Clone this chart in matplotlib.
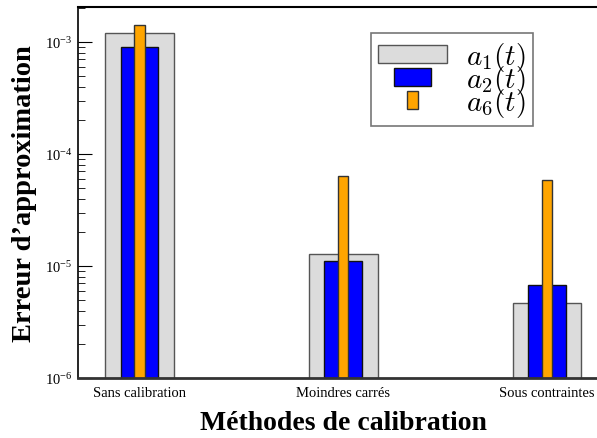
import matplotlib
matplotlib.use("Agg")
import matplotlib.pyplot as plt
from matplotlib.patches import Rectangle
from matplotlib.legend_handler import HandlerPatch
from matplotlib.ticker import FuncFormatter, LogLocator
import numpy as np

plt.rcParams["font.family"] = "Liberation Serif"
plt.rcParams["mathtext.fontset"] = "cm"

methods = ["Sans calibration", "Moindres carrés", "Sous contraintes"]
a1 = [1.21e-3, 1.28e-5, 4.6e-6]
a2 = [9.1e-4, 1.09e-5, 6.6e-6]
a6 = [1.43e-3, 6.3e-5, 5.8e-5]
labels = [r"$a_1(t)$", r"$a_2(t)$", r"$a_6(t)$"]

widths = [0.338, 0.185, 0.05]
colors = ["#dcdcdc", "#0000ff", "#ffa500"]
edges = ["#555555", "#111111", "#333333"]


class ScaledHandler(HandlerPatch):
    # legend patch whose width follows the bar width
    def __init__(self, frac):
        super().__init__()
        self.frac = frac

    def create_artists(self, legend, orig_handle, xdescent, ydescent,
                       width, height, fontsize, trans):
        w = width * self.frac
        p = Rectangle((-xdescent + (width - w) / 2, -ydescent),
                      w, height, facecolor=orig_handle.get_facecolor(),
                      edgecolor=orig_handle.get_edgecolor(),
                      linewidth=orig_handle.get_linewidth(), transform=trans)
        return [p]


fig = plt.figure(figsize=(5.97, 4.39), dpi=100)
ax = fig.add_axes([0.1307, 0.1367, 0.888, 0.845])

x = np.arange(len(methods))
bars = []
for vals, w, c, e, lab in zip([a1, a2, a6], widths, colors, edges, labels):
    b = ax.bar(x, vals, width=w, color=c, edgecolor=e, linewidth=1.0,
               label=lab, bottom=1e-7)
    bars.append(b)

ax.set_yscale("log")
ax.set_ylim(1e-6, 2.05e-3)
ax.set_xlim(-0.302, 2.3)
ax.set_xticks(x)
ax.set_xticklabels(methods, fontsize=10.5)
ax.tick_params(axis="x", length=0, pad=6)
ax.yaxis.set_major_locator(LogLocator(base=10))
ax.yaxis.set_minor_locator(LogLocator(base=10, subs=np.arange(2, 10)))
ax.yaxis.set_major_formatter(FuncFormatter(
    lambda v, p: r"$\mathregular{10^{%d}}$" % round(np.log10(v))))
ax.tick_params(axis="y", which="major", direction="in", length=10,
               labelsize=10.5, pad=4)
ax.tick_params(axis="y", which="minor", direction="in", length=5)

ax.spines["bottom"].set_linewidth(2.0)
ax.spines["bottom"].set_color("#333333")
ax.spines["top"].set_linewidth(1.5)
ax.spines["left"].set_linewidth(1.2)

ax.set_xlabel("Méthodes de calibration", fontsize=20, fontweight="bold",
              labelpad=8)
ax.set_ylabel("Erreur d’approximation", fontsize=20.5, fontweight="bold",
              labelpad=6)

handler_map = {
    bars[0].patches[0]: ScaledHandler(1.0),
    bars[1].patches[0]: ScaledHandler(0.545),
    bars[2].patches[0]: ScaledHandler(0.155),
}
leg = ax.legend([b.patches[0] for b in bars], labels,
                handler_map=handler_map, loc="upper left",
                bbox_to_anchor=(0.552, 0.93), fontsize=21,
                frameon=True, fancybox=False, edgecolor="#555555",
                handlelength=2.37, handleheight=0.54, labelspacing=-0.345,
                handletextpad=0.65, borderpad=0.25, borderaxespad=0)
leg.get_frame().set_linewidth(1.2)

fig.savefig("out.png", dpi=100)
